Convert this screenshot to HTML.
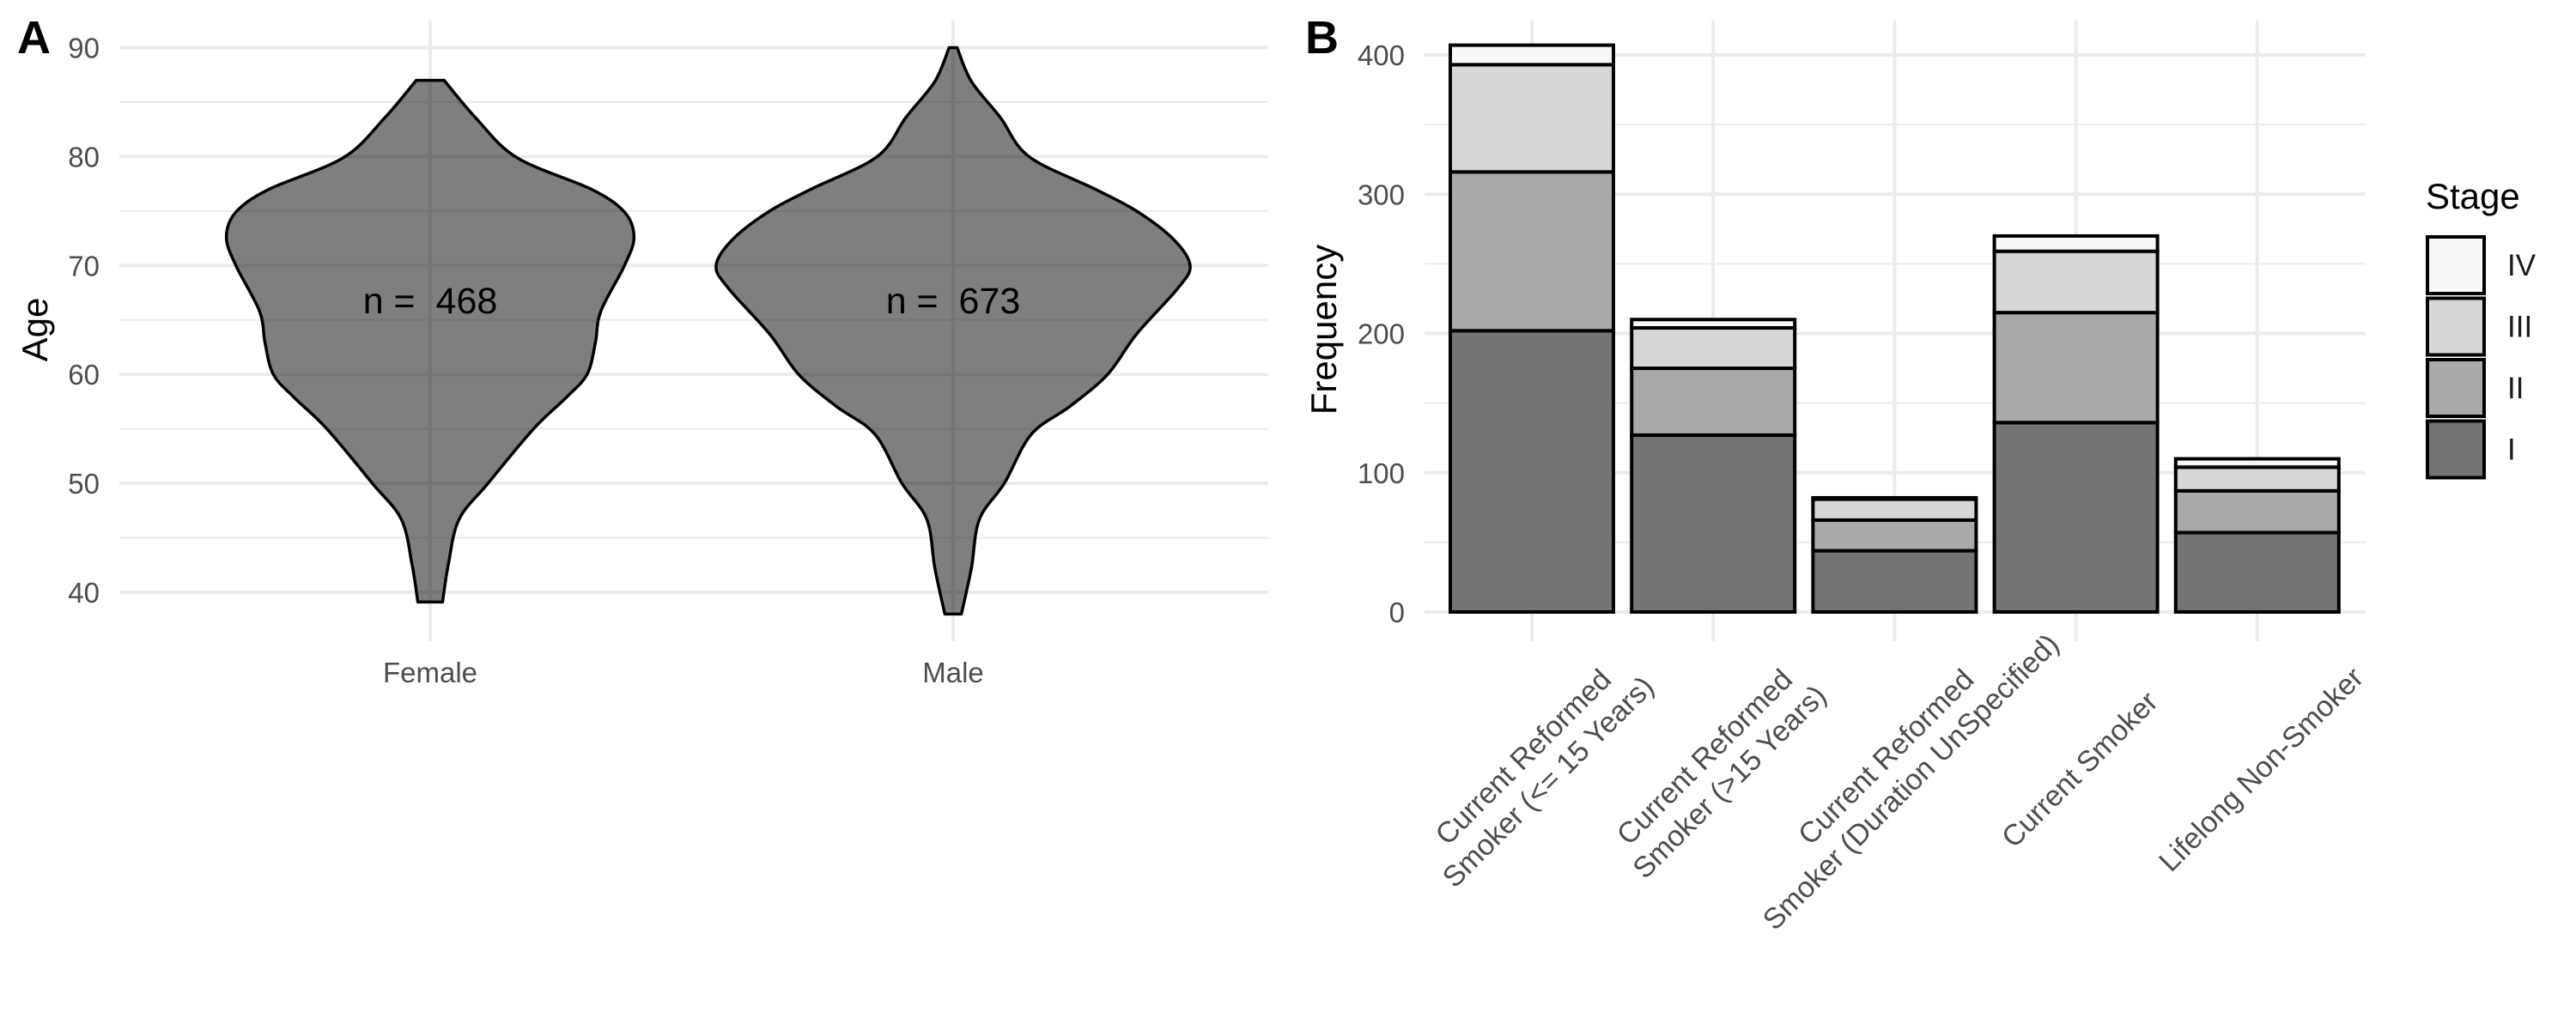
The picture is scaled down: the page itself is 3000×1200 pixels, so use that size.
<!DOCTYPE html>
<html><head><meta charset="utf-8"><style>
html,body{margin:0;padding:0;background:#fff;}
svg{display:block;font-family:"Liberation Sans",sans-serif;}
</style></head><body>
<svg id="chart" width="3000" height="1200" viewBox="0 0 3000 1200" xmlns="http://www.w3.org/2000/svg">
<g id="panelA"></g>
<g id="panelB"></g>
</svg>
<script>
// ---- Panel A data ----
const sexCategories = ["Female", "Male"];
const sexCounts = [468, 673];
const ageTicks = [40, 50, 60, 70, 80, 90];
const femaleAges = [87, 83.6, 79.9, 77.0, 74.9, 72.6, 70, 65.8, 62.9, 60, 57.9, 55, 50, 46.7, 42.6, 39.1];
const femaleWidths = [0.059, 0.19, 0.366, 0.68, 0.82, 0.86, 0.82, 0.72, 0.697, 0.662, 0.575, 0.436, 0.244, 0.122, 0.077, 0.052];
const maleAges = [90, 86.9, 83.6, 80, 77, 75, 72.4, 70, 67.9, 63.7, 60, 57.1, 54.5, 50, 46.7, 42.2, 38];
const maleWidths = [0.017, 0.077, 0.199, 0.32, 0.6, 0.774, 0.93, 1.0, 0.948, 0.774, 0.652, 0.495, 0.33, 0.216, 0.111, 0.077, 0.035];
// ---- Panel B data ----
const smokeCategories = [["Current Reformed","Smoker (<= 15 Years)"],["Current Reformed","Smoker (>15 Years)"],["Current Reformed","Smoker (Duration UnSpecified)"],["Current Smoker"],["Lifelong Non-Smoker"]];
const stageNames = ["I","II","III","IV"];
const stageI = [202, 127, 44, 136, 57];
const stageII = [114, 48, 22, 79, 30];
const stageIII = [77, 29, 15, 44, 17];
const stageIV = [14, 6, 1, 11, 6];
const freqTicks = [0, 100, 200, 300, 400];

const NS = "http://www.w3.org/2000/svg";
function mk(parent, tag, attrs, text) {
  const e = document.createElementNS(NS, tag);
  for (const k in attrs) e.setAttribute(k, attrs[k]);
  if (text !== undefined) e.textContent = text;
  parent.appendChild(e);
  return e;
}
function catmull(pts) {
  let d = "M" + pts[0][0] + "," + pts[0][1];
  for (let i = 0; i < pts.length - 1; i++) {
    const p0 = pts[Math.max(0, i - 1)], p1 = pts[i], p2 = pts[i + 1], p3 = pts[Math.min(pts.length - 1, i + 2)];
    const c1 = [p1[0] + (p2[0] - p0[0]) / 6, p1[1] + (p2[1] - p0[1]) / 6];
    const c2 = [p2[0] - (p3[0] - p1[0]) / 6, p2[1] - (p3[1] - p1[1]) / 6];
    d += " C" + c1[0] + "," + c1[1] + " " + c2[0] + "," + c2[1] + " " + p2[0] + "," + p2[1];
  }
  return d;
}

// ===== Panel A =====
const A = document.getElementById("panelA");
const aLeft = 139, aRight = 1477, aTop = 24, aBottom = 747;
const yA = v => 690 - (v - 40) * 12.69;
const xA = i => 501 + i * 609;
const halfMax = 276;
for (let i = 0; i < ageTicks.length - 1; i++) {
  const m = (ageTicks[i] + ageTicks[i + 1]) / 2;
  const l = mk(A, "line", {x1: aLeft, x2: aRight, y1: yA(m), y2: yA(m), stroke: "#ebebeb", "stroke-width": 2});
  
  
}
ageTicks.forEach(t => {
  const l = mk(A, "line", {x1: aLeft, x2: aRight, y1: yA(t), y2: yA(t), stroke: "#ebebeb", "stroke-width": 4});
  
  
  const tx = mk(A, "text", {x: 116, y: yA(t) + 12, "text-anchor": "end", "font-size": 33, fill: "#4d4d4d"}, t);
  
  
});
sexCategories.forEach((c, i) => {
  const l = mk(A, "line", {x1: xA(i), x2: xA(i), y1: aTop, y2: aBottom, stroke: "#ebebeb", "stroke-width": 4});
  
  
});
[[femaleAges, femaleWidths], [maleAges, maleWidths]].forEach((s, i) => {
  const ages = s[0], w = s[1], cx = xA(i);
  const right = ages.map((a, k) => [cx + w[k] * halfMax, yA(a)]);
  const left = ages.map((a, k) => [cx - w[k] * halfMax, yA(a)]).reverse();
  let d = catmull(right) + " L" + left[0][0] + "," + left[0][1] + " " + catmull(left).slice(1).replace(/^[^C]*/, "") + " Z";
  const p = mk(A, "path", {d: d, fill: "#000", "fill-opacity": 0.5, stroke: "#000", "stroke-width": 3.5, "stroke-linejoin": "round"});
  
  
  const t = mk(A, "text", {x: cx, y: yA(66.8) + 15, "text-anchor": "middle", "font-size": 43, fill: "#000", "xml:space": "preserve"}, "n =\u00a0\u00a0" + sexCounts[i]);
  
  
  const xl = mk(A, "text", {x: cx, y: 795, "text-anchor": "middle", "font-size": 33, fill: "#4d4d4d"}, sexCategories[i]);
  
  
});
let t1 = mk(A, "text", {x: 0, y: 0, transform: "translate(55,384) rotate(-90)", "text-anchor": "middle", "font-size": 42, fill: "#000"}, "Age");


let la = mk(A, "text", {x: 20, y: 62, "font-size": 54, "font-weight": "bold", fill: "#000"}, "A");



// ===== Panel B =====
const B = document.getElementById("panelB");
const bLeft = 1659, bRight = 2755, bTop = 24, bBottom = 747;
const yB = v => 713 - v * 1.6225;
const xB = i => 1784 + i * 211.2;
const barW = 190;
const fills = ["#747474", "#a9a9a9", "#d6d6d6", "#f7f7f7"];
for (let i = 0; i < freqTicks.length - 1; i++) {
  const m = (freqTicks[i] + freqTicks[i + 1]) / 2;
  const l = mk(B, "line", {x1: bLeft, x2: bRight, y1: yB(m), y2: yB(m), stroke: "#ebebeb", "stroke-width": 2});
  
  
}
freqTicks.forEach(t => {
  const l = mk(B, "line", {x1: bLeft, x2: bRight, y1: yB(t), y2: yB(t), stroke: "#ebebeb", "stroke-width": 4});
  
  
  const tx = mk(B, "text", {x: 1636, y: yB(t) + 12, "text-anchor": "end", "font-size": 33, fill: "#4d4d4d"}, t);
  
  
});
smokeCategories.forEach((c, i) => {
  const l = mk(B, "line", {x1: xB(i), x2: xB(i), y1: bTop, y2: bBottom, stroke: "#ebebeb", "stroke-width": 4});
  
  
});
const stages = [stageI, stageII, stageIII, stageIV];
smokeCategories.forEach((c, i) => {
  let base = 0;
  stages.forEach((s, k) => {
    const v = s[i];
    const r = mk(B, "rect", {x: xB(i) - barW / 2, y: yB(base + v), width: barW, height: yB(base) - yB(base + v), fill: fills[k], stroke: "#000", "stroke-width": 4});
    
    
    base += v;
  });
  const g = mk(B, "text", {transform: "translate(" + (xB(i) + 4) + ",896) rotate(-45)", "text-anchor": "middle", "font-size": 34, fill: "#4d4d4d"});
  
  
  const n = c.length;
  c.forEach((line, j) => {
    mk(g, "tspan", {x: 0, y: (j - (n - 1) / 2) * 41 + 12}, line);
  });
});
let t2 = mk(B, "text", {x: 0, y: 0, transform: "translate(1556,384) rotate(-90)", "text-anchor": "middle", "font-size": 42, fill: "#000"}, "Frequency");


let lb = mk(B, "text", {x: 1520, y: 62, "font-size": 54, "font-weight": "bold", fill: "#000"}, "B");


const lg = mk(B, "g", {});


let lt = mk(lg, "text", {x: 2825, y: 243, "font-size": 42, fill: "#000"}, "Stage");


[3, 2, 1, 0].forEach((k, j) => {
  const y0 = 274 + j * 71.5;
  const r = mk(lg, "rect", {x: 2827, y: y0 + 2, width: 66, height: 66, fill: fills[k], stroke: "#000", "stroke-width": 4});
  
  
  const t = mk(lg, "text", {x: 2920, y: y0 + 47, "font-size": 35, fill: "#1a1a1a"}, stageNames[k]);
  
  
});
</script>
</body></html>
